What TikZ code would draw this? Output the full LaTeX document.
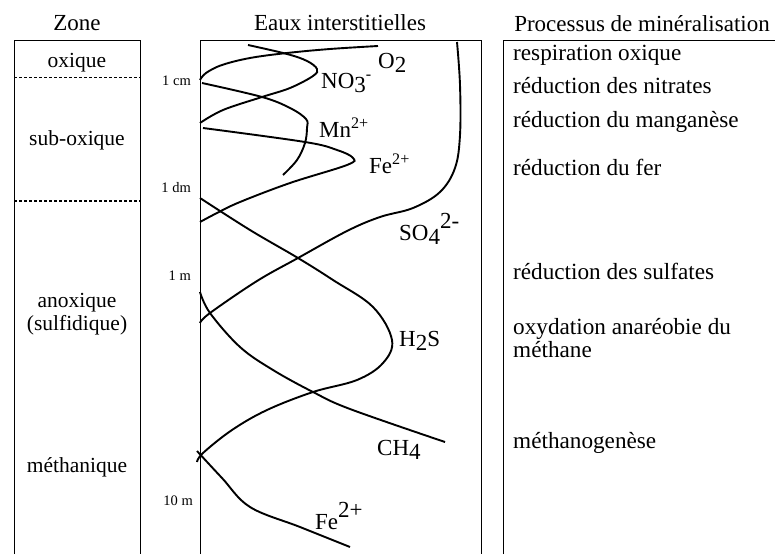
\documentclass[tikz,border=0pt]{standalone}
\usepackage{fontspec}
\setmainfont{Liberation Serif}
\newcommand{\lowr}[1]{\raisebox{-0.17em}{#1}}
\newcommand{\highr}[1]{\raisebox{0.5em}{#1}}
\begin{document}
\begin{tikzpicture}[x=1pt,y=-1pt,
  frame/.style={line width=0.9pt},
  sep/.style={line width=1.1pt,dash pattern=on 3pt off 2pt},
  curve/.style={line width=1.9pt,smooth,tension=0.6},
  title/.style={inner sep=0pt,anchor=base,font=\fontsize{23}{26}\selectfont},
  zonetxt/.style={inner sep=0pt,anchor=base,font=\fontsize{21.5}{23}\selectfont},
  proc/.style={inner sep=0pt,anchor=base west,font=\fontsize{23.2}{20}\selectfont},
  depth/.style={inner sep=0pt,anchor=base east,font=\fontsize{14.5}{16}\selectfont},
  spec/.style={inner sep=0pt,anchor=west,font=\fontsize{23}{26}\selectfont}]
\useasboundingbox (0,0) rectangle (775,554);
% boxes
\draw[frame] (14,554) -- (14,40) -- (140,40) -- (140,554);
\draw[frame] (200,554) -- (200,40) -- (481,40) -- (481,554);
\draw[frame] (503,554) -- (503,40) -- (775,40);
\draw[sep] (14,77.5) -- (140,77.5);
\draw[sep] (14,201) -- (140,201);
% titles
\node[title] (tzone) at (77,30) {Zone};
\node[title] (teaux) at (340,30) {Eaux interstitielles};
\node[title] (tproc) at (642,31) {Processus de minéralisation};
% zones
\node[zonetxt] (zox) at (77,67) {oxique};
\node[zonetxt] (zsub) at (77,145) {sub-oxique};
\node[zonetxt] (zan) at (77,307) {anoxique};
\node[zonetxt] (zsul) at (77,330) {(sulfidique)};
\node[zonetxt] (zme) at (77,472) {méthanique};
% depths
\node[depth] (dcm) at (191,85) {1 cm};
\node[depth] (ddm) at (191,192) {1 dm};
\node[depth] (dm) at (191,280) {1 m};
\node[depth] (d10) at (193,505) {10 m};
% processes
\node[proc] (p1) at (513,60) {respiration oxique};
\node[proc] (p2) at (513,93) {réduction des nitrates};
\node[proc] (p3) at (513,127) {réduction du manganèse};
\node[proc] (p4) at (513,175) {réduction du fer};
\node[proc] (p5) at (513,279) {réduction des sulfates};
\node[proc] (p6) at (513,334) {oxydation anaréobie du};
\node[proc] (p6b) at (513,357) {méthane};
\node[proc] (p7) at (513,448) {méthanogenèse};
% curves
\draw[curve] plot coordinates {(378,46) (330,49) (287,53) (250,58) (222,65) (206,73) (200,80)};
\draw[curve] plot coordinates {(248,45) (287,54) (307,61) (317,69) (313,76) (290,88) (262,97) (223,110) (200,123)};
\draw[curve] plot coordinates {(202,83) (262,97) (290,108) (306,119) (307,128) (305,143) (297,160) (283,175)};
\draw[curve] plot coordinates {(203,128) (305,142) (337,150) (353,158) (347,165) (290,183) (240,202) (217,213) (200,222)};
\draw[curve] plot coordinates {(457,42) (460,85) (460,135) (455,168) (440,192) (413,208) (380,217) (347,231) (298,258) (257,281) (210,313) (200,323)};
\draw[curve] plot coordinates {(200,198) (250,230) (298,258) (333,280) (373,307) (392,340) (383,363) (357,380) (313,392) (267,410) (232,430) (203,453) (197,462)};
\draw[curve] plot coordinates {(200,292) (210,313) (240,347) (273,370) (313,392) (350,409) (445,442)};
\draw[curve] plot coordinates {(197,451) (222,478) (250,507) (300,527) (350,547)};
% species labels
\node[spec] (lo2) at (378,63) {O\lowr{2}};
\node[spec] (lno3) at (321,83) {NO\lowr{3}\textsuperscript{-}};
\node[spec] (lmn) at (319,128) {Mn\textsuperscript{2+}};
\node[spec] (lfe1) at (369,164) {Fe\textsuperscript{2+}};
\node[spec] (lso4) at (399,229) {SO\lowr{4}\highr{2-}};
\node[spec] (lh2s) at (399,341) {H\lowr{2}S};
\node[spec] (lch4) at (377,450) {CH\lowr{4}};
\node[spec] (lfe2) at (315,516) {Fe\highr{2+}};
\end{tikzpicture}
\end{document}
